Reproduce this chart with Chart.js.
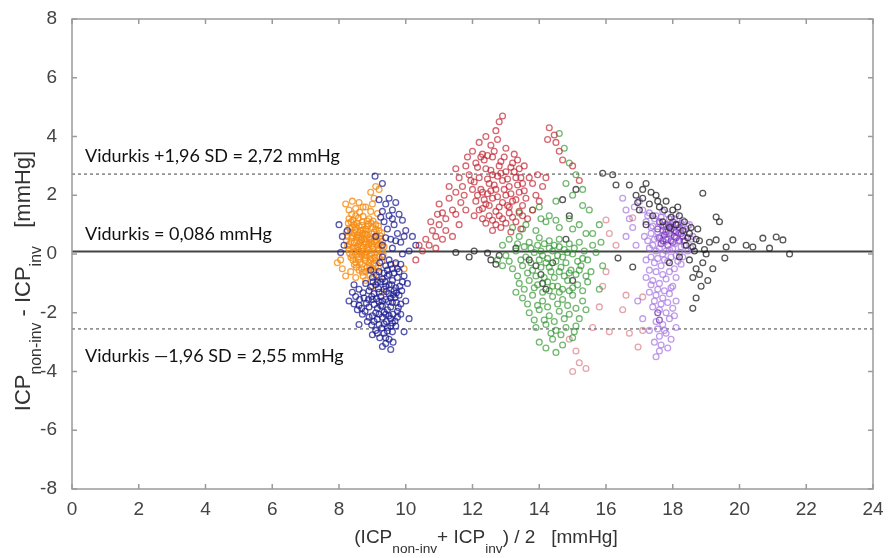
<!DOCTYPE html>
<html>
<head>
<meta charset="utf-8">
<script src="https://cdn.jsdelivr.net/npm/chart.js@4.4.1/dist/chart.umd.min.js"></script>
<style>
  html, body { margin: 0; padding: 0; background: #fff; }
  #wrap { width: 888px; height: 558px; }
</style>
</head>
<body>
<div id="wrap"><canvas id="grafico" width="888" height="558"></canvas></div>
<script>
// tick values
const X_TICKS = [0, 2, 4, 6, 8, 10, 12, 14, 16, 18, 20, 22, 24];
const Y_TICKS = [-8, -6, -4, -2, 0, 2, 4, 6, 8];

// limits of agreement
const VIDURKIS = 0.086;
const VIRS = 2.72;
const APACIA = -2.55;

// points: [mean, difference]
const oranzinis = [
  [8.3,1.2],[8.5,1.3],[8.7,1.1],[8.9,1.2],[9.1,1.0],[8.4,0.9],[8.6,0.95],[8.8,0.85],[9.0,0.9],[9.2,0.8],
  [8.25,0.6],[8.45,0.7],[8.65,0.6],[8.85,0.65],[9.05,0.55],[9.25,0.5],[8.35,0.4],[8.55,0.45],[8.75,0.35],[8.95,0.4],
  [9.15,0.3],[9.35,0.25],[8.3,0.15],[8.5,0.2],[8.7,0.1],[8.9,0.15],[9.1,0.05],[9.3,0.1],[8.4,-0.05],[8.6,-0.1],
  [8.8,-0.05],[9.0,-0.15],[9.2,-0.1],[8.5,-0.3],[8.7,-0.35],[8.9,-0.3],[9.1,-0.4],[8.6,-0.55],[8.8,-0.6],[9.0,-0.5],
  [8.45,1.0],[8.65,0.8],[8.75,0.5],[8.55,0.25],[8.85,0.2],[8.95,-0.2],[8.35,0.75],[9.05,0.75],[8.62,0.05],[8.78,0.7],
  [8.2,1.7],[8.4,1.8],[8.6,1.75],[8.8,1.6],[9.0,1.7],[8.5,1.55],[8.95,2.1],[9.1,2.3],[9.2,2.2],[9.05,1.9],
  [7.95,-0.3],[8.1,-0.5],[8.2,-0.75],[8.35,-0.6],[8.05,-0.2],[8.5,-0.8],
  [8.8,-0.9],[9.0,-1.1],[9.3,-1.3],[9.2,-0.8],[9.7,-0.35],[9.95,-0.5],
  [8.28,1.05],[8.42,1.15],[8.58,1.22],[8.72,1.28],[8.88,1.02],[9.02,1.12],[9.18,0.95],[8.32,0.88],[8.48,0.82],[8.62,0.72],
  [8.82,0.78],[8.98,0.68],[9.12,0.62],[9.28,0.72],[8.22,0.45],[8.38,0.55],[8.52,0.58],[8.68,0.48],[8.82,0.52],[8.98,0.28],
  [9.12,0.48],[9.22,0.35],[8.26,0.28],[8.42,0.22],[8.58,0.32],[8.72,0.22],[8.88,0.32],[9.02,0.22],[9.18,0.18],[9.32,-0.02],
  [8.32,0.02],[8.48,0.08],[8.68,-0.02],[8.82,0.08],[8.98,0.02],[9.08,-0.12],[9.28,-0.25],[8.42,-0.2],[8.58,-0.18],[8.78,-0.22],
  [8.92,-0.42],[9.02,-0.32],[9.18,-0.48],[8.52,-0.45],[8.68,-0.5],[8.72,-0.75],[8.92,-0.7],[8.62,1.42],[8.38,1.35],[8.95,1.45],
  [9.15,1.38],[8.72,1.6],[8.3,1.5],
  [8.36,1.1],[8.54,1.05],[8.68,0.98],[8.84,1.12],[8.96,1.05],[9.1,0.85],[9.24,0.62],[8.4,0.62],[8.56,0.65],[8.7,0.7],
  [8.9,0.55],[9.06,0.42],[9.26,0.28],[8.3,0.32],[8.46,0.38],[8.64,0.4],[8.8,0.42],[8.94,0.5],[9.16,0.12],[8.36,-0.12],
  [8.54,-0.04],[8.76,0.02],[8.92,-0.08],[9.1,-0.22],[8.46,-0.36],[8.64,-0.28],[8.84,-0.45],[9.04,-0.6],[8.7,-0.62],[8.58,0.12],
  [8.72,0.82],[8.6,0.55],[8.86,0.95],[9.0,0.35],[8.78,-0.12],[8.66,0.28],[8.5,0.92],[8.22,0.75],[9.3,0.42],[8.9,-0.55]
];
const melynas = [
  [9.3,-0.1],[9.5,-0.2],[9.7,-0.3],[9.4,-0.4],[9.6,-0.5],[9.8,-0.6],[9.2,-0.6],[9.5,-0.7],[9.0,-0.8],[9.3,-0.85],
  [9.6,-0.9],[9.9,-0.95],[8.8,-1.0],[9.1,-1.05],[9.4,-1.1],[9.7,-1.15],[8.6,-1.2],[8.9,-1.25],[9.2,-1.3],[9.5,-1.35],
  [9.8,-1.4],[8.5,-1.45],[8.75,-1.5],[9.0,-1.55],[9.3,-1.6],[9.6,-1.65],[8.6,-1.75],[8.9,-1.8],[9.15,-1.85],[9.45,-1.9],
  [9.75,-1.95],[8.7,-2.05],[9.0,-2.1],[9.3,-2.15],[9.55,-2.2],[9.85,-2.05],[8.85,-2.3],[9.2,-2.4],[9.45,-2.5],[9.1,-2.6],
  [9.35,-2.7],[9.6,-2.65],[9.5,-2.9],[9.4,-3.05],[9.55,-3.25],[9.0,-2.75],[9.25,-1.45],[9.05,-1.35],[9.35,-1.2],[9.65,-1.25],
  [8.95,-0.55],[9.15,-0.95],[9.45,-0.75],[9.75,-0.8],[9.85,-1.7],[10.0,-1.6],[10.1,-2.2],[8.45,-1.05],[8.3,-1.6],[8.6,-2.4],
  [9.7,-2.45],[9.95,-2.65],[9.25,-1.75],[9.55,-1.5],[9.4,-2.05],
  [9.22,-0.3],[9.45,-0.55],[9.65,-0.65],[9.85,-0.35],[9.12,-0.72],[9.38,-0.95],[9.58,-1.05],[9.82,-1.1],[8.95,-1.12],[9.18,-1.18],
  [9.42,-1.28],[9.72,-1.32],[8.72,-1.32],[8.98,-1.45],[9.12,-1.52],[9.4,-1.55],[9.68,-1.48],[8.62,-1.55],[8.82,-1.68],[9.05,-1.72],
  [9.3,-1.78],[9.55,-1.8],[9.78,-1.82],[8.55,-1.9],[8.78,-1.95],[9.1,-2.0],[9.35,-1.98],[9.62,-2.05],[8.9,-2.15],[9.15,-2.22],
  [9.42,-2.3],[9.68,-2.28],[8.98,-2.42],[9.28,-2.52],[9.55,-2.45],[9.22,-2.85],[9.45,-2.62],[9.62,-3.0],[9.3,-3.15],[9.5,-1.05],
  [9.25,-0.95],[9.02,-0.95],[8.88,-1.55],[9.2,-1.62],
  [9.35,-0.65],[9.55,-0.35],[9.75,-0.5],[9.95,-0.75],[9.62,-1.38],[9.88,-1.25],[10.05,-1.0],[9.48,-1.62],[9.72,-1.65],[8.68,-1.85],
  [8.45,-1.7],[8.4,-1.3],[9.2,-2.05],[9.5,-2.1],[9.75,-2.15],[9.05,-2.3],[9.35,-2.38],[9.15,-2.7],[9.4,-2.85],[9.6,-2.35],
  [9.2,1.85],[9.4,1.7],[9.6,1.5],[9.3,1.45],[9.5,1.3],[9.8,1.35],[9.35,1.1],[9.65,1.0],[9.9,1.15],[9.45,0.85],
  [9.75,0.7],[10.0,0.8],[9.55,0.5],[9.85,0.4],[10.2,0.6],[9.3,0.3],[9.1,0.6],[9.6,0.2],[10.1,0.1],[9.9,0.0],
  [9.5,1.9],[9.7,1.75],[9.25,1.25],[9.6,1.2],[9.4,0.55],[9.7,0.45],[9.95,0.6],[10.3,0.3],
  [8.0,1.0],[8.1,0.6],[8.15,0.3],[8.05,0.05],[8.25,0.8],[9.08,2.65],[9.3,2.4]
];
const raudonas = [
  [10.3,-0.2],[10.4,0.3],[10.5,0.1],[10.6,0.5],[10.7,0.3],[10.8,0.8],[10.9,0.6],[10.75,1.1],[11.0,1.0],[11.1,1.4],
  [11.0,1.7],[11.2,1.2],[11.3,1.9],[11.4,1.5],[11.3,2.3],[11.5,2.1],[11.6,2.6],[11.5,2.9],[11.7,2.3],[11.8,3.0],
  [11.9,2.7],[11.85,3.3],[12.0,3.5],[12.1,3.1],[12.2,3.8],[12.3,3.4],[12.4,4.0],[12.55,3.7],[12.7,4.2],[12.8,4.5],
  [12.9,4.7],[12.75,3.9],[13.0,3.6],[12.6,3.3],
  [10.9,0.2],[11.1,0.5],[11.2,0.8],[10.95,1.35],[11.4,0.6],[11.6,1.0],[11.8,1.5],[11.5,1.35],
  [12.0,2.2],[12.2,2.6],[12.4,2.9],[12.6,2.7],[12.8,3.0],[13.0,2.8],[13.2,3.1],[13.4,2.9],[12.1,1.8],[12.3,2.1],
  [12.5,2.4],[12.7,2.2],[12.9,2.5],[13.1,2.3],[13.3,2.6],[13.5,2.4],[12.2,1.5],[12.4,1.7],[12.6,1.9],[12.8,1.6],
  [13.0,2.0],[13.2,1.8],[13.4,2.1],[13.6,1.9],[12.3,1.2],[12.5,1.3],[12.7,1.0],[12.9,1.2],[13.1,1.4],[13.3,1.1],
  [13.5,1.3],[12.6,0.8],[12.85,0.9],[13.15,0.75],[13.45,0.85],[12.45,2.05],[12.75,2.65],[13.05,1.65],[12.95,3.3],[13.25,3.4],
  [13.55,3.0],[13.7,2.6],[13.8,1.5],[13.65,1.2],[12.15,2.95],[12.35,3.2],
  [12.05,2.45],[12.25,2.2],[12.45,2.55],[12.65,2.35],[12.85,2.75],[13.05,2.55],[13.25,2.8],[13.45,2.6],[12.15,2.0],[12.35,1.85],
  [12.55,2.15],[12.75,1.95],[12.95,2.2],[13.15,2.05],[13.35,2.35],[13.55,2.15],[12.3,1.55],[12.5,1.65],[12.7,1.45],[12.9,1.75],
  [13.1,1.6],[13.3,1.85],[13.5,1.65],[12.4,1.05],[12.6,1.15],[12.8,1.3],[13.0,1.05],[13.2,1.25],[13.4,1.45],[12.55,2.85],
  [12.85,3.15],[13.15,2.95],[12.65,3.5],[12.45,3.35],[13.35,3.2],[12.25,3.3],[11.95,2.5],[11.75,2.0],[11.65,1.75],[12.05,1.3],
  [14.3,4.3],[14.45,4.05],[14.5,3.8],[14.6,3.5],[14.7,3.2],[14.25,3.9],[15.0,3.0],[15.2,2.5],
  [13.8,2.4],[13.9,2.0],[14.1,2.3],[14.0,1.8],[14.2,2.6],[13.95,2.7]
];
const zalias = [
  [13.4,1.4],[13.8,1.5],[14.3,1.3],[14.9,1.2],[15.5,1.5],[15.8,1.0],
  [13.2,0.9],[13.6,1.0],[13.9,0.8],[14.2,1.1],[14.6,0.9],[15.0,0.85],[15.4,0.7],
  [12.9,0.3],[13.1,0.5],[13.4,0.6],[13.7,0.4],[14.0,0.55],[14.3,0.45],[14.6,0.5],[14.9,0.35],[15.2,0.4],[15.6,0.3],
  [13.0,-0.05],[13.3,0.1],[13.6,-0.1],[13.85,0.05],[14.1,-0.05],[14.4,0.1],[14.7,-0.1],[15.0,0.0],[15.3,-0.15],[15.7,0.05],
  [13.2,-0.5],[13.5,-0.4],[13.8,-0.55],[14.05,-0.45],[14.35,-0.6],[14.65,-0.45],[14.95,-0.55],[15.25,-0.4],[15.55,-0.6],
  [13.4,-1.0],[13.7,-0.9],[13.95,-1.05],[14.25,-0.95],[14.55,-1.1],[14.85,-0.9],[15.15,-1.05],[15.45,-0.95],[15.8,-1.2],
  [13.5,-1.5],[13.8,-1.4],[14.1,-1.6],[14.4,-1.45],[14.7,-1.55],[15.0,-1.4],[15.3,-1.6],
  [13.7,-2.0],[14.0,-1.9],[14.3,-2.1],[14.6,-1.95],[14.9,-2.05],[15.2,-2.2],
  [13.9,-2.5],[14.2,-2.4],[14.5,-2.6],[14.8,-2.5],[15.1,-2.45],
  [14.0,-3.0],[14.4,-2.9],[14.7,-3.1],[15.0,-2.85],[14.5,-3.35],
  [14.0,-0.2],[14.2,-0.3],[14.5,-0.25],[14.8,-0.3],[13.9,-0.75],[14.15,-0.8],[14.45,-0.8],[14.75,-0.75],[14.3,0.2],[14.6,0.25],
  [13.75,0.2],[15.1,-0.7],[14.3,-1.25],[14.6,-1.3],[14.9,-1.25],
  [13.35,0.35],[13.55,0.25],[13.95,0.3],[14.15,0.35],[14.45,0.3],[14.75,0.15],[15.05,0.2],[15.35,0.1],[13.45,-0.2],[13.75,-0.3],
  [14.05,0.1],[14.25,-0.15],[14.55,-0.05],[14.85,0.05],[15.15,-0.25],[15.45,-0.2],[13.35,-0.75],[13.65,-0.65],[14.3,-0.45],[14.6,-0.6],
  [14.9,-0.65],[15.2,-0.55],[15.4,-0.75],[13.55,-1.2],[13.85,-1.15],[14.1,-1.3],[14.4,-1.1],[14.7,-1.2],[15.0,-1.15],[15.3,-1.25],
  [13.65,-1.7],[13.95,-1.75],[14.25,-1.8],[14.55,-1.7],[14.85,-1.75],[15.1,-1.85],[14.15,-2.25],[14.45,-2.3],[14.75,-2.2],[15.05,-2.65],
  [14.35,-2.7],[14.65,-2.75],[14.2,-3.2],[13.85,-2.25],[15.4,-1.9],[13.5,0.85],[14.05,1.2],[14.5,1.15],[15.2,1.0],[15.6,0.7],
  [15.85,0.4],[15.9,-0.4],[13.3,-1.3],[14.0,1.6],[15.3,1.65],
  [14.6,4.1],[14.75,3.6],[14.9,3.1],[15.1,2.7],[14.8,2.4],[15.0,2.0],[15.3,2.2],[14.5,1.8],
  [12.75,-0.2],[12.9,-0.4],[13.1,-0.25]
];
const juodas = [
  [11.5,0.05],[11.9,-0.1],[12.05,0.1],[12.45,0.03],[12.55,-0.2],[12.8,-0.05],[12.7,-0.35],
  [13.9,-0.4],[14.05,-0.7],[14.2,-1.2],[14.1,-1.0],[14.4,-0.3],[13.7,-0.2],[15.0,-0.9],[14.8,0.5],[13.3,0.2],
  [14.7,1.85],[15.1,2.2],[14.9,1.3],
  [15.9,2.75],[16.2,2.7],[16.3,2.35],[16.7,2.35],[17.2,2.4],[16.9,2.0],[17.1,1.9],[17.3,1.7],[17.5,2.0],[17.6,1.6],
  [17.8,1.8],[18.0,1.5],[18.2,1.3],[17.4,1.3],[17.7,1.1],[17.9,0.9],[18.1,1.0],[18.3,0.8],[18.5,0.7],[18.7,0.5],
  [18.9,2.07],[17.0,1.5],[17.2,1.0],[18.4,0.3],[18.6,0.25],[18.8,0.45],[19.3,1.26],[19.4,1.1],[19.3,0.48],[19.6,0.24],
  [19.8,0.48],[20.2,0.3],[20.4,0.24],[20.7,0.54],[20.9,0.2],[21.1,0.58],[21.3,0.48],[21.5,0.0],[19.1,0.4],[19.0,0.0],
  [18.5,-0.2],[18.7,-0.5],[18.9,-0.3],[19.05,-0.9],[18.6,-0.8],[18.8,-0.7],[18.7,-1.5],[18.6,-1.85],[19.56,-0.14],[16.36,-0.14],
  [16.8,-0.44],[18.2,-0.1],[17.9,-0.3],
  [17.35,2.1],[17.55,1.8],[17.75,1.5],[17.95,1.25],[18.15,1.6],[18.35,1.1],[18.55,0.9],[18.75,0.85],[18.45,0.55],[17.1,2.2],
  [16.95,1.75],[18.65,0.1],[18.95,0.15],[19.2,-0.5],[18.85,-1.1]
];
const rausvas = [
  [16.0,1.16],[16.1,0.7],[15.9,-1.1],[16.6,-1.4],[16.5,-1.9],[17.1,-1.46],[16.1,-2.65],[16.7,-2.7],[17.1,-2.6],[16.96,-3.17],
  [16.8,1.23],[14.9,-2.9],[15.1,-3.3],[15.2,-3.7],[15.0,-4.0],[15.4,-3.9],[15.6,-2.5],[15.8,-1.8],[16.0,-0.6],[16.3,0.3]
];
const violetinis = [
  [17.1,1.5],[17.3,1.4],[17.5,1.3],[17.7,1.45],[17.9,1.2],[18.1,1.35],[18.3,1.15],[18.5,1.0],[17.2,1.1],[17.4,0.95],
  [17.6,1.05],[17.8,0.8],[18.0,0.95],[18.2,0.75],[18.4,0.85],[18.6,0.6],[17.15,0.6],[17.35,0.7],[17.55,0.55],[17.75,0.4],
  [17.95,0.6],[18.15,0.45],[18.35,0.3],[18.55,0.2],[17.3,0.2],[17.5,0.1],[17.7,0.0],[17.9,0.15],[18.1,-0.05],[18.3,-0.1],
  [17.2,-0.2],[17.45,-0.3],[17.65,-0.4],[17.85,-0.25],[18.05,-0.5],[18.25,-0.35],
  [17.2,-0.8],[17.4,-0.9],[17.6,-1.0],[17.8,-0.85],[18.0,-1.1],[17.3,-1.3],[17.5,-1.4],[17.7,-1.5],[17.9,-1.35],[18.1,-1.6],
  [17.4,-1.8],[17.6,-1.9],[17.8,-2.0],[18.0,-1.85],[17.5,-2.3],[17.7,-2.4],[17.9,-2.2],[18.1,-2.5],[17.3,-2.6],[17.6,-2.8],
  [17.8,-2.7],[17.45,-3.0],[17.65,-3.1],[17.85,-3.2],[17.5,-3.5],[17.1,-2.2],[16.95,-1.6],
  [17.25,1.3],[17.45,1.2],[17.65,1.25],[17.85,1.35],[18.05,1.2],[18.25,1.05],[18.45,0.95],[17.35,0.9],[17.55,0.75],[17.75,0.95],
  [17.95,1.0],[18.15,0.85],[18.35,0.75],[18.55,0.5],[17.25,0.45],[17.45,0.5],[17.65,0.6],[17.85,0.55],[18.05,0.35],[18.25,0.25],
  [18.45,0.1],[17.4,0.3],[17.6,0.2],[17.8,0.1],[18.0,0.2],[18.2,0.05],[17.35,-0.1],[17.55,-0.15],[17.75,-0.2],[17.95,-0.1],
  [18.15,-0.25],[17.3,-0.55],[17.5,-0.6],[17.7,-0.7],[17.9,-0.6],[18.1,-0.8],[17.35,-1.05],[17.55,-1.2],[17.75,-1.25],[17.95,-1.15],
  [17.45,-1.6],[17.65,-1.7],[17.85,-1.65],[18.05,-2.1],[17.55,-2.55],[17.75,-2.6],[17.95,-2.9],[17.6,-3.3],
  [16.5,1.9],[16.6,1.5],[16.7,1.2],[16.8,0.9],[16.6,0.6],[16.85,1.6],[17.0,1.8],[16.9,0.3]
];
const violetinisTamsus = [
  [17.6,1.1],[17.8,1.0],[18.0,1.1],[18.2,0.9],[17.7,0.8],[17.9,0.7],[18.1,0.75],[18.3,0.6],[17.6,0.55],[17.8,0.5],
  [18.0,0.4],[18.2,0.45],[17.95,0.85],[17.75,0.65],[18.05,0.6],[17.85,0.3],[17.65,0.35],[18.15,1.0],[17.55,0.85],[18.35,0.45],
  [17.7,0.95],[17.9,0.95],[18.1,0.55],[17.95,0.45],[17.7,0.45],[18.25,0.7],[17.8,0.75],[18.05,0.8],
  [17.55,-2.0],[17.6,-2.25]
];

const SRIFTAS = "'Liberation Sans', Arial, sans-serif";

function rinkinys(taskai, spalva) {
    return {
        data: taskai.map(p => ({ x: p[0], y: p[1] })),
        borderColor: spalva,
        backgroundColor: "rgba(0,0,0,0)",
        pointRadius: 2.9,
        pointBorderWidth: 1.3,
        showLine: false
    };
}

// piesia teksta su apatiniais indeksais
function tekstasSuIndeksais(ctx, dalys, cx, cy, dydis, kampas) {
    ctx.save();
    ctx.translate(cx, cy);
    ctx.rotate(kampas);
    let plotis = 0;
    dalys.forEach(d => {
        ctx.font = (d.sub ? dydis * 0.72 : dydis) + "px " + SRIFTAS;
        plotis += ctx.measureText(d.t).width;
    });
    let x = -plotis / 2;
    ctx.fillStyle = "#333";
    ctx.textBaseline = "alphabetic";
    ctx.textAlign = "left";
    dalys.forEach(d => {
        ctx.font = (d.sub ? dydis * 0.72 : dydis) + "px " + SRIFTAS;
        ctx.fillText(d.t, x, d.sub ? dydis * 0.5 : 0);
        x += ctx.measureText(d.t).width;
    });
    ctx.restore();
}

const remelis = {
    id: "remelis",
    beforeDatasetsDraw(chart) {
        const { ctx, chartArea: a, scales: { x, y } } = chart;
        ctx.save();
        // dashed limits
        ctx.strokeStyle = "#8a8a8a";
        ctx.lineWidth = 1.6;
        ctx.setLineDash([3, 3]);
        [VIRS, APACIA].forEach(v => {
            const py = y.getPixelForValue(v);
            ctx.beginPath();
            ctx.moveTo(a.left, py);
            ctx.lineTo(a.right, py);
            ctx.stroke();
        });
        ctx.setLineDash([]);
        ctx.strokeStyle = "#444";
        ctx.lineWidth = 2;
        const py0 = y.getPixelForValue(VIDURKIS);
        ctx.beginPath();
        ctx.moveTo(a.left, py0);
        ctx.lineTo(a.right, py0);
        ctx.stroke();
        ctx.restore();
    },
    afterDraw(chart) {
        const { ctx, chartArea: a, scales: { x, y } } = chart;
        ctx.save();
        ctx.strokeStyle = "#9a9a9a";
        ctx.lineWidth = 1.5;
        ctx.strokeRect(a.left, a.top, a.right - a.left, a.bottom - a.top);
        ctx.beginPath();
        X_TICKS.forEach(v => {
            const px = x.getPixelForValue(v);
            ctx.moveTo(px, a.bottom); ctx.lineTo(px, a.bottom - 5);
            ctx.moveTo(px, a.top); ctx.lineTo(px, a.top + 5);
        });
        Y_TICKS.forEach(v => {
            const py = y.getPixelForValue(v);
            ctx.moveTo(a.left, py); ctx.lineTo(a.left + 5, py);
            ctx.moveTo(a.right, py); ctx.lineTo(a.right - 5, py);
        });
        ctx.stroke();

        // anotacijos
        ctx.fillStyle = "#111";
        ctx.font = "18px Lato, 'Open Sans', sans-serif";
        ctx.textAlign = "left";
        ctx.textBaseline = "alphabetic";
        ctx.fillText("Vidurkis +1,96 SD = 2,72 mmHg", 85, 162);
        ctx.fillText("Vidurkis = 0,086 mmHg", 85, 240);
        ctx.fillText("Vidurkis \u20141,96 SD = 2,55 mmHg", 85, 362);
        ctx.restore();

        // asiu pavadinimai
        tekstasSuIndeksais(ctx, [
            { t: "(ICP" }, { t: "non-inv", sub: true }, { t: "+ ICP" }, { t: "inv", sub: true }, { t: ") / 2   [mmHg]" }
        ], 486, 543, 19, 0);
        tekstasSuIndeksais(ctx, [
            { t: "ICP" }, { t: "non-inv", sub: true }, { t: " - ICP" }, { t: "inv", sub: true }, { t: "   [mmHg]" }
        ], 30, 281, 22, -Math.PI / 2);
    }
};

const ctx = document.getElementById("grafico").getContext("2d");
new Chart(ctx, {
    type: "scatter",
    data: {
        datasets: [
            rinkinys(melynas, "rgba(30,30,145,0.75)"),
            rinkinys(oranzinis, "rgba(246,140,20,0.8)"),
            rinkinys(raudonas, "rgba(195,35,50,0.7)"),
            rinkinys(zalias, "rgba(40,145,40,0.65)"),
            rinkinys(juodas, "rgba(30,30,30,0.75)"),
            rinkinys(rausvas, "rgba(205,90,100,0.55)"),
            rinkinys(violetinis, "rgba(165,115,225,0.7)"),
            rinkinys(violetinisTamsus, "rgba(110,40,170,0.75)")
        ]
    },
    options: {
        responsive: false,
        animation: false,
        layout: { padding: { top: 19, right: 15, left: 0, bottom: 0 } },
        plugins: {
            legend: { display: false },
            tooltip: { enabled: false }
        },
        scales: {
            x: {
                type: "linear",
                min: 0,
                max: 24,
                afterBuildTicks: s => { s.ticks = X_TICKS.map(v => ({ value: v })); },
                afterFit: s => { s.height = 69; s.paddingLeft = 0; s.paddingRight = 0; },
                grid: { display: false, drawTicks: false },
                border: { display: false },
                ticks: { padding: 9, color: "#444", font: { size: 19, family: SRIFTAS } }
            },
            y: {
                type: "linear",
                min: -8,
                max: 8,
                afterBuildTicks: s => { s.ticks = Y_TICKS.map(v => ({ value: v })); },
                afterFit: s => { s.width = 72; s.paddingTop = 0; s.paddingBottom = 0; },
                grid: { display: false, drawTicks: false },
                border: { display: false },
                ticks: { padding: 15, color: "#444", font: { size: 19, family: SRIFTAS } }
            }
        }
    },
    plugins: [remelis]
});
</script>
</body>
</html>
